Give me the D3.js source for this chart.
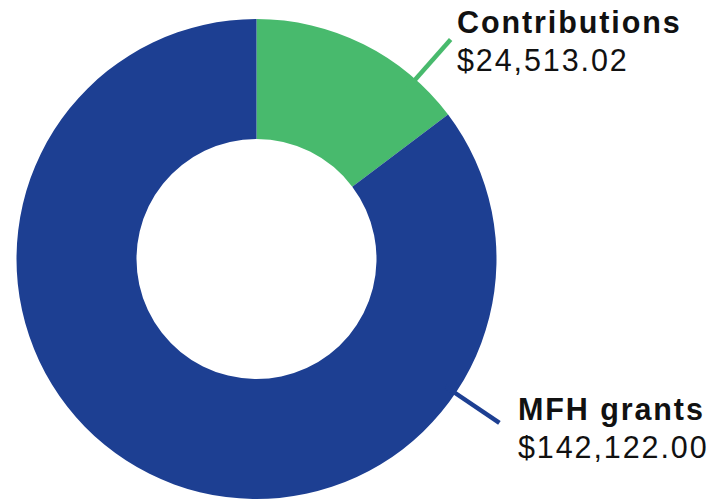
<!DOCTYPE html>
<html>
<head>
<meta charset="utf-8">
<script src="https://cdn.jsdelivr.net/npm/d3@7"></script>
<style>
  body { margin: 0; background: #fff; }
  svg { display: block; }
</style>
</head>
<body>
<div id="chart"></div>
<script>
let categories = ["Contributions", "MFH grants"];
let amounts = [24513.02, 142122.00];
let valueLabels = ["$24,513.02", "$142,122.00"];
let colors = ["#48ba6d", "#1d3f92"];

let width = 722, height = 500;
let cx = 256.5, cy = 259;
let outerR = 240, innerR = 120;

let svg = d3.select("#chart")
            .append("svg")
                .attr("width", width)
                .attr("height", height);

let g = svg.append("g")
            .attr("transform", "translate(" + cx + "," + cy + ")");

let pieData = d3.pie().sort(null)(amounts);

let arc = d3.arc()
            .innerRadius(innerR)
            .outerRadius(outerR);

g.selectAll("path.slice")
    .data(pieData)
    .join("path")
    .attr("class", "slice")
    .attr("d", arc)
    .attr("fill", (d, i) => colors[i]);

// leader lines, angle picked per slice (radians from top, clockwise)
let leaderAngle = [41.5 * Math.PI / 180, 124 * Math.PI / 180];
let pt = (a, r) => [Math.sin(a) * r, -Math.cos(a) * r];

g.selectAll("line.leader")
    .data(pieData)
    .join("line")
    .attr("class", "leader")
    .attr("x1", (d, i) => pt(leaderAngle[i], outerR - 12)[0])
    .attr("y1", (d, i) => pt(leaderAngle[i], outerR - 12)[1])
    .attr("x2", (d, i) => pt(leaderAngle[i], 293)[0])
    .attr("y2", (d, i) => pt(leaderAngle[i], 293)[1])
    .attr("stroke", (d, i) => colors[i])
    .attr("stroke-width", 4.5);

// labels
let labelPos = [[457, 33], [518, 420]];

categories.forEach((c, i) => {
    let t = svg.append("text")
        .attr("x", labelPos[i][0])
        .attr("y", labelPos[i][1])
        .style("font-family", "'Liberation Sans', Arial, sans-serif")
        .style("font-size", "30.5px")
        .style("letter-spacing", "1.9px")
        .attr("fill", "#111");
    t.append("tspan")
        .attr("x", labelPos[i][0])
        .style("font-weight", "bold")
        .text(c);
    t.append("tspan")
        .attr("x", labelPos[i][0])
        .attr("dy", 38)
        .text(valueLabels[i]);
});
</script>
</body>
</html>
